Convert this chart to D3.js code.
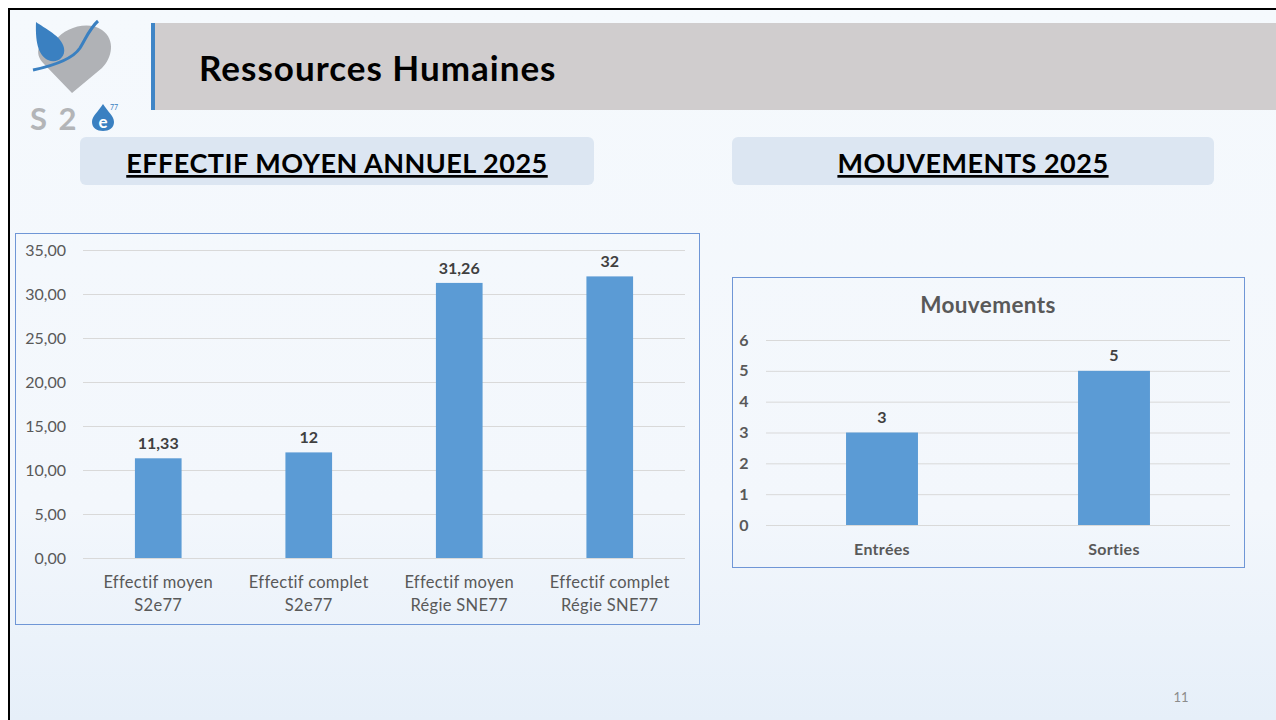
<!DOCTYPE html>
<html>
<head>
<meta charset="utf-8">
<script src="https://cdn.jsdelivr.net/npm/d3@7"></script>
<style>
  body { margin: 0; background: #fff; }
  svg { display: block; font-family: Lato, "Open Sans", sans-serif; }
</style>
</head>
<body>
<svg width="1276" height="720"></svg>
<script>
//  data
var effectifCategories = [["Effectif moyen", "S2e77"], ["Effectif complet", "S2e77"],
                          ["Effectif moyen", "Régie SNE77"], ["Effectif complet", "Régie SNE77"]];
var effectifValues = [11.33, 12, 31.26, 32];
var effectifLabels = ["11,33", "12", "31,26", "32"];
var effectifTicks = [0, 5, 10, 15, 20, 25, 30, 35];

var mouvCategories = ["Entrées", "Sorties"];
var mouvValues = [3, 5];
var mouvTicks = [0, 1, 2, 3, 4, 5, 6];

var svg = d3.select("svg");
var barColor = "#5b9bd5";
var textGray = "#595959";
var gridColor = "#d9d9d9";

//  slide background
var defs = svg.append("defs");
var grad = defs.append("linearGradient").attr("id", "bg").attr("x1", 0).attr("y1", 0).attr("x2", 0).attr("y2", 1);
grad.append("stop").attr("offset", "0%").attr("stop-color", "#f5f9fd");
grad.append("stop").attr("offset", "70%").attr("stop-color", "#f3f7fc");
grad.append("stop").attr("offset", "100%").attr("stop-color", "#e6eff9");

svg.append("rect").attr("x", 10).attr("y", 10).attr("width", 1266).attr("height", 710).attr("fill", "url(#bg)");
svg.append("line").attr("x1", 9).attr("x2", 1276).attr("y1", 9).attr("y2", 9).attr("stroke", "#000").attr("stroke-width", 2);
svg.append("line").attr("x1", 9).attr("x2", 9).attr("y1", 8).attr("y2", 720).attr("stroke", "#000").attr("stroke-width", 2);

//  header bar
svg.append("rect").attr("x", 152).attr("y", 23).attr("width", 1124).attr("height", 87).attr("fill", "#d0cdce");
svg.append("rect").attr("x", 151).attr("y", 23).attr("width", 4).attr("height", 87).attr("fill", "#3f85c6");
svg.append("text").attr("x", 199).attr("y", 81).attr("font-size", 35).attr("font-weight", "bold")
  .attr("letter-spacing", 1).attr("fill", "#000").text("Ressources Humaines");

//  logo (approximate)
var logo = svg.append("g");
logo.append("path").attr("d", "M72,93 L44,64 C32,52 40,38 56,40 C64,28 88,20 102,30 C116,40 112,58 102,68 Z")
  .attr("fill", "#b0b2b6");
logo.append("path").attr("d", "M36,22 C44,28 62,36 64,48 C66,58 56,64 48,60 C40,56 35,46 36,22 Z").attr("fill", "#3a80c1");
logo.append("path").attr("d", "M33,70 C52,66 72,60 80,48 C86,38 90,28 98,21").attr("fill", "none")
  .attr("stroke", "#3a80c1").attr("stroke-width", 3);
logo.append("text").attr("x", 30).attr("y", 130).attr("font-size", 31).attr("font-weight", "bold")
  .attr("fill", "#b3b5b8").attr("letter-spacing", 2).text("S 2");
logo.append("path").attr("d", "M103,104 C108,112 114,116 114,122 C114,128 109,131 103,131 C97,131 92,128 92,122 C92,116 98,112 103,104 Z")
  .attr("fill", "#3a80c1");
logo.append("text").attr("x", 103).attr("y", 128).attr("text-anchor", "middle").attr("font-size", 17)
  .attr("font-weight", "bold").attr("fill", "#fff").text("e");
logo.append("text").attr("x", 110).attr("y", 110).attr("font-size", 7).attr("fill", "#3a80c1").text("77");

//  section headers
function sectionHeader(x, w, label) {
  svg.append("rect").attr("x", x).attr("y", 137).attr("width", w).attr("height", 48).attr("rx", 6)
    .attr("fill", "#dce6f2");
  svg.append("text").attr("x", x + w / 2).attr("y", 173).attr("text-anchor", "middle")
    .attr("font-size", 27).attr("font-weight", "bold").attr("letter-spacing", 0.5)
    .attr("text-decoration", "underline").attr("fill", "#000").text(label);
}
sectionHeader(80, 514, "EFFECTIF MOYEN ANNUEL 2025");
sectionHeader(732, 482, "MOUVEMENTS 2025");

//  chart 1 : effectif moyen
svg.append("rect").attr("x", 15.5).attr("y", 233.5).attr("width", 684).attr("height", 391)
  .attr("fill", "none").attr("stroke", "#6f96d6").attr("stroke-width", 1);

var x1 = d3.scaleBand().domain(d3.range(effectifValues.length)).range([83, 685]).paddingInner(0.69).paddingOuter(0.345);
var y1 = d3.scaleLinear().domain([0, 35]).range([558, 250]);

var g1 = svg.append("g");
g1.append("g").attr("transform", "translate(83,0)")
  .call(d3.axisLeft(y1).tickValues(effectifTicks).tickSize(-602)
    .tickFormat(function(d) { return d3.format(".2f")(d).replace(".", ","); }))
  .call(function(g) {
    g.select(".domain").remove();
    g.selectAll(".tick line").attr("stroke", gridColor);
    g.selectAll(".tick text").attr("x", -17).attr("fill", textGray).attr("font-size", 16)
      .attr("font-family", "Lato, sans-serif");
  });

g1.selectAll("rect.bar").data(effectifValues).enter().append("rect").attr("class", "bar")
  .attr("x", function(d, i) { return x1(i); })
  .attr("width", x1.bandwidth())
  .attr("y", function(d) { return y1(d); })
  .attr("height", function(d) { return y1(0) - y1(d); })
  .attr("fill", barColor);

g1.selectAll("text.val").data(effectifValues).enter().append("text").attr("class", "val")
  .attr("x", function(d, i) { return x1(i) + x1.bandwidth() / 2; })
  .attr("y", function(d) { return y1(d) - 9; })
  .attr("text-anchor", "middle").attr("font-size", 16).attr("font-weight", "bold").attr("fill", "#404040")
  .text(function(d, i) { return effectifLabels[i]; });

g1.selectAll("text.cat").data(effectifCategories).enter().append("text").attr("class", "cat")
  .attr("text-anchor", "middle").attr("font-size", 16.5).attr("letter-spacing", 0.3).attr("fill", textGray)
  .each(function(d, i) {
    var t = d3.select(this);
    var cx = x1(i) + x1.bandwidth() / 2;
    t.append("tspan").attr("x", cx).attr("y", 588).text(d[0]);
    t.append("tspan").attr("x", cx).attr("y", 611).text(d[1]);
  });

//  chart 2 : mouvements
svg.append("rect").attr("x", 732.5).attr("y", 277.5).attr("width", 512).attr("height", 290)
  .attr("fill", "none").attr("stroke", "#6f96d6").attr("stroke-width", 1);
svg.append("text").attr("x", 988).attr("y", 313).attr("text-anchor", "middle").attr("font-size", 22.5)
  .attr("font-weight", "bold").attr("letter-spacing", 0.4).attr("fill", textGray).text("Mouvements");

var x2 = d3.scaleBand().domain(mouvCategories).range([766, 1230]).paddingInner(0.69).paddingOuter(0.345);
var y2 = d3.scaleLinear().domain([0, 6]).range([525, 340]);

var g2 = svg.append("g");
g2.append("g").attr("transform", "translate(766,0)")
  .call(d3.axisLeft(y2).tickValues(mouvTicks).tickSize(-464).tickFormat(d3.format("d")))
  .call(function(g) {
    g.select(".domain").remove();
    g.selectAll(".tick line").attr("stroke", gridColor);
    g.selectAll(".tick text").attr("x", -22).attr("text-anchor", "middle").attr("fill", textGray)
      .attr("font-size", 16).attr("font-weight", "bold").attr("font-family", "Lato, sans-serif");
  });

g2.selectAll("rect.bar").data(mouvValues).enter().append("rect").attr("class", "bar")
  .attr("x", function(d, i) { return x2(mouvCategories[i]); })
  .attr("width", x2.bandwidth())
  .attr("y", function(d) { return y2(d); })
  .attr("height", function(d) { return y2(0) - y2(d); })
  .attr("fill", barColor);

g2.selectAll("text.val").data(mouvValues).enter().append("text").attr("class", "val")
  .attr("x", function(d, i) { return x2(mouvCategories[i]) + x2.bandwidth() / 2; })
  .attr("y", function(d) { return y2(d) - 10; })
  .attr("text-anchor", "middle").attr("font-size", 16).attr("font-weight", "bold").attr("fill", "#404040")
  .text(function(d) { return d; });

g2.selectAll("text.cat").data(mouvCategories).enter().append("text").attr("class", "cat")
  .attr("x", function(d) { return x2(d) + x2.bandwidth() / 2; })
  .attr("y", 555)
  .attr("text-anchor", "middle").attr("font-size", 16).attr("font-weight", "bold").attr("letter-spacing", 0.3)
  .attr("fill", textGray)
  .text(function(d) { return d; });

//  page number
svg.append("text").attr("x", 1181).attr("y", 702).attr("text-anchor", "middle").attr("font-size", 13)
  .attr("fill", "#8c8c8c").text("11");
</script>
</body>
</html>
